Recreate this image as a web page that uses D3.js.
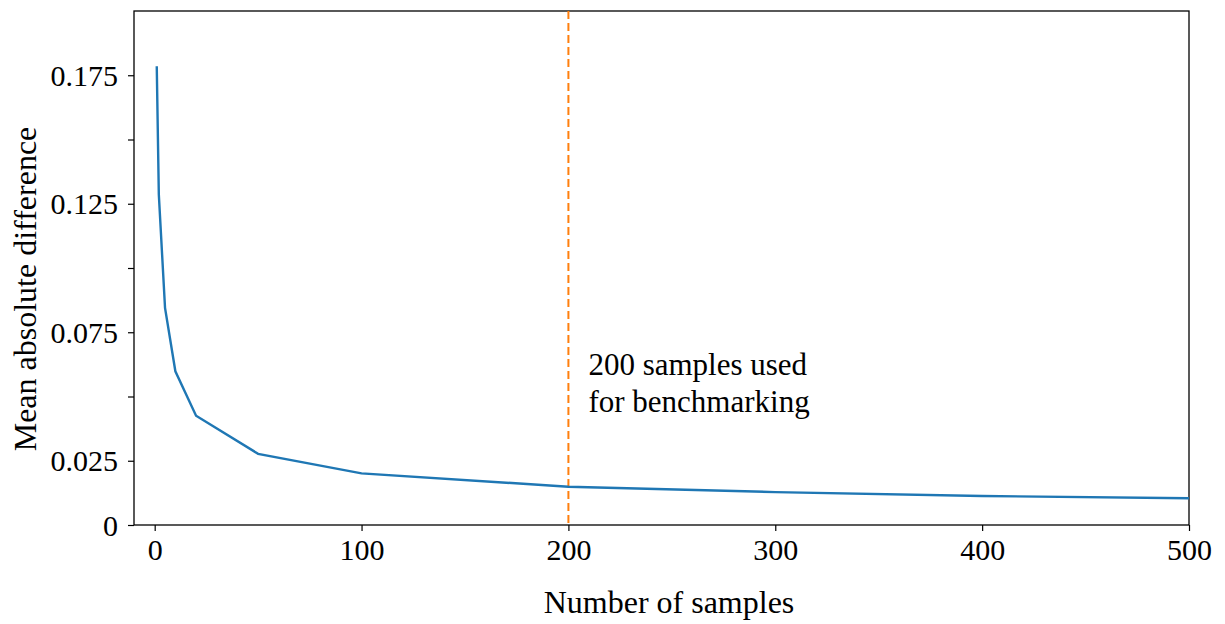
<!DOCTYPE html>
<html lang="en">
<head>
<meta charset="utf-8">
<title>Mean absolute difference vs samples</title>
<script src="https://d3js.org/d3.v7.min.js"></script>
<style>
  body { margin: 0; background: #fff; }
  text { font-family: "Liberation Serif", "DejaVu Serif", serif; fill: #000; }
</style>
</head>
<body>
<div id="chart"></div>
<script>
// data
var sampleCounts = [1, 2, 5, 10, 20, 50, 100, 200, 300, 400, 500];
var meanAbsDiff = [0.1785, 0.1286, 0.0845, 0.0598, 0.0425, 0.0277, 0.0201, 0.0149, 0.0128, 0.0113, 0.0104];
var xTicks = [0, 100, 200, 300, 400, 500];
var yTicks = [0, 0.025, 0.05, 0.075, 0.1, 0.125, 0.15, 0.175];
var yTickLabels = ["0", "0.025", "", "0.075", "", "0.125", "", "0.175"];
var benchmarkSamples = 200;

var W = 1225, H = 624;
var margin = { top: 11, right: 36, bottom: 99, left: 134 },
    width = W - margin.left - margin.right,
    height = H - margin.top - margin.bottom;

var svg = d3.select("#chart").append("svg")
    .attr("width", W).attr("height", H);
var g = svg.append("g")
    .attr("transform", "translate(" + margin.left + "," + margin.top + ")");

var x = d3.scaleLinear().domain([-10, 500]).range([0, width]);
var y = d3.scaleLinear().domain([0, 0.2]).range([height, 0]);

// axes
var xAxis = g.append("g")
    .attr("transform", "translate(0," + height + ")")
    .call(d3.axisBottom(x).tickValues(xTicks).tickSize(6).tickPadding(8).tickFormat(d3.format("d")));
var yAxis = g.append("g")
    .call(d3.axisLeft(y).tickValues(yTicks).tickSize(6).tickPadding(10)
        .tickFormat(function (d, i) { return yTickLabels[i]; }));

[xAxis, yAxis].forEach(function (a) {
    a.select(".domain").remove();
    a.selectAll("line").attr("stroke", "#000").attr("stroke-width", 1.2);
    a.selectAll("text").style("font-size", "30px").style("font-family", "Liberation Serif, serif").attr("fill", "#000");
});
xAxis.selectAll("text").attr("dy", "0.71em");
yAxis.selectAll("text").attr("dy", "0.34em");

// frame
g.append("rect")
    .attr("x", 0).attr("y", 0).attr("width", width).attr("height", height)
    .attr("fill", "none").attr("stroke", "#000").attr("stroke-width", 1.3);

// benchmark marker
g.append("line")
    .attr("x1", x(benchmarkSamples)).attr("x2", x(benchmarkSamples))
    .attr("y1", 0).attr("y2", height)
    .attr("stroke", "#ff7f0e").attr("stroke-width", 2)
    .attr("stroke-dasharray", "8,4");

// curve
var data = sampleCounts.map(function (n, i) { return { n: n, v: meanAbsDiff[i] }; });
var line = d3.line()
    .x(function (d) { return x(d.n); })
    .y(function (d) { return y(d.v); });
g.append("path")
    .datum(data)
    .attr("d", line)
    .attr("fill", "none")
    .attr("stroke", "#1f77b4")
    .attr("stroke-width", 2.4);

// annotation
var note = g.append("text")
    .attr("x", x(benchmarkSamples) + 20)
    .attr("y", 364)
    .style("font-size", "31px");
note.append("tspan").attr("x", x(benchmarkSamples) + 20).text("200 samples used");
note.append("tspan").attr("x", x(benchmarkSamples) + 20).attr("dy", 37).text("for benchmarking");

// axis labels
svg.append("text")
    .attr("x", 669).attr("y", 613)
    .attr("text-anchor", "middle")
    .style("font-size", "32px")
    .text("Number of samples");

svg.append("text")
    .attr("transform", "translate(36,289) rotate(-90)")
    .attr("text-anchor", "middle")
    .style("font-size", "32px")
    .text("Mean absolute difference");
</script>
</body>
</html>
